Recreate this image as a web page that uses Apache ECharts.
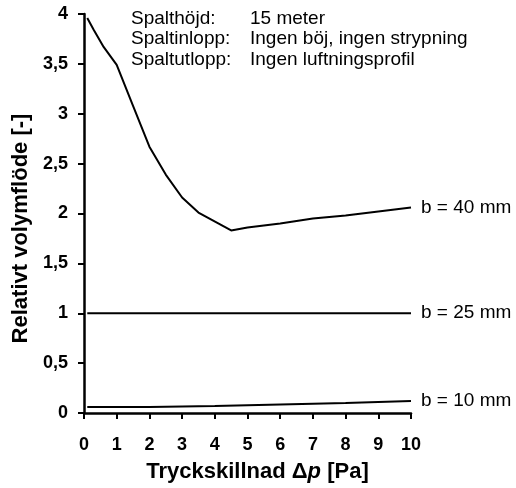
<!DOCTYPE html>
<html>
<head>
<meta charset="utf-8">
<script src="https://cdn.jsdelivr.net/npm/echarts@6/dist/echarts.min.js"></script>
<style>
  html, body { margin: 0; padding: 0; background: #fff; }
  #chart { width: 516px; height: 488px; }
</style>
</head>
<body>
<div id="chart"></div>
<script>
// Relative volume flow vs. pressure difference for three slot widths
const seriesNames = ['b = 40 mm', 'b = 25 mm', 'b = 10 mm'];

const b40 = [
  [0.1, 3.96], [0.3, 3.84], [0.6, 3.67], [1, 3.49], [1.5, 3.08], [2, 2.67],
  [2.5, 2.39], [3, 2.16], [3.5, 2.01], [4.5, 1.83], [5, 1.86], [6, 1.90],
  [7, 1.95], [8, 1.98], [9, 2.02], [10, 2.06]
];
const b25 = [[0.1, 1.0], [10, 1.0]];
const b10 = [[0.1, 0.06], [2, 0.06], [4, 0.07], [6, 0.085], [8, 0.1], [10, 0.12]];

const annotationLines = [
  ['Spalthöjd:', '15 meter'],
  ['Spaltinlopp:', 'Ingen böj, ingen strypning'],
  ['Spaltutlopp:', 'Ingen luftningsprofil']
];

const font = 'Liberation Sans, Arial, sans-serif';
const chart = echarts.init(document.getElementById('chart'));

function lineSeries(name, data) {
  return {
    name: name,
    type: 'line',
    data: data,
    symbol: 'none',
    lineStyle: { color: '#000', width: 2 },
    endLabel: {
      show: true,
      formatter: '{a}',
      distance: 10,
      color: '#000',
      fontFamily: font,
      fontSize: 19
    },
    z: 3
  };
}

const annotationGraphics = [];
annotationLines.forEach(function (row, i) {
  annotationGraphics.push({
    type: 'text', left: 131, top: 9 + i * 20.5,
    style: { text: row[0], font: '19px ' + font, fill: '#000' }
  });
  annotationGraphics.push({
    type: 'text', left: 250, top: 9 + i * 20.5,
    style: { text: row[1], font: '19px ' + font, fill: '#000' }
  });
});

chart.setOption({
  animation: false,
  backgroundColor: '#fff',
  grid: { left: 84, right: 105, top: 14, bottom: 74 },
  xAxis: {
    type: 'value', min: 0, max: 10, interval: 1,
    axisLine: { lineStyle: { color: '#000', width: 2.5 } },
    axisTick: { show: true, length: 6, lineStyle: { color: '#000', width: 2 } },
    axisLabel: { color: '#000', fontFamily: font, fontWeight: 'bold', fontSize: 18, margin: 23 },
    splitLine: { show: false },
    name: 'Tryckskillnad Δ{i|p} [Pa]',
    nameLocation: 'middle',
    nameGap: 48,
    nameTextStyle: {
      color: '#000', fontFamily: font, fontWeight: 'bold', fontSize: 22,
      padding: [0, 0, 0, 20],
      rich: { i: { fontStyle: 'italic', fontWeight: 'bold', fontSize: 22, fontFamily: font, color: '#000' } }
    }
  },
  yAxis: {
    type: 'value', min: 0, max: 4, interval: 0.5,
    axisLine: { show: true, lineStyle: { color: '#000', width: 2.5 } },
    axisTick: { show: true, length: 6, lineStyle: { color: '#000', width: 2 } },
    axisLabel: {
      color: '#000', fontFamily: font, fontWeight: 'bold', fontSize: 18, margin: 16,
      formatter: function (v) { return String(v).replace('.', ','); }
    },
    splitLine: { show: false },
    name: 'Relativt volymflöde [-]',
    nameLocation: 'middle',
    nameGap: 50,
    nameTextStyle: {
      color: '#000', fontFamily: font, fontWeight: 'bold', fontSize: 22,
      padding: [0, 30, 0, 0]
    }
  },
  graphic: annotationGraphics,
  series: [
    lineSeries(seriesNames[0], b40),
    lineSeries(seriesNames[1], b25),
    lineSeries(seriesNames[2], b10)
  ]
});
</script>
</body>
</html>
